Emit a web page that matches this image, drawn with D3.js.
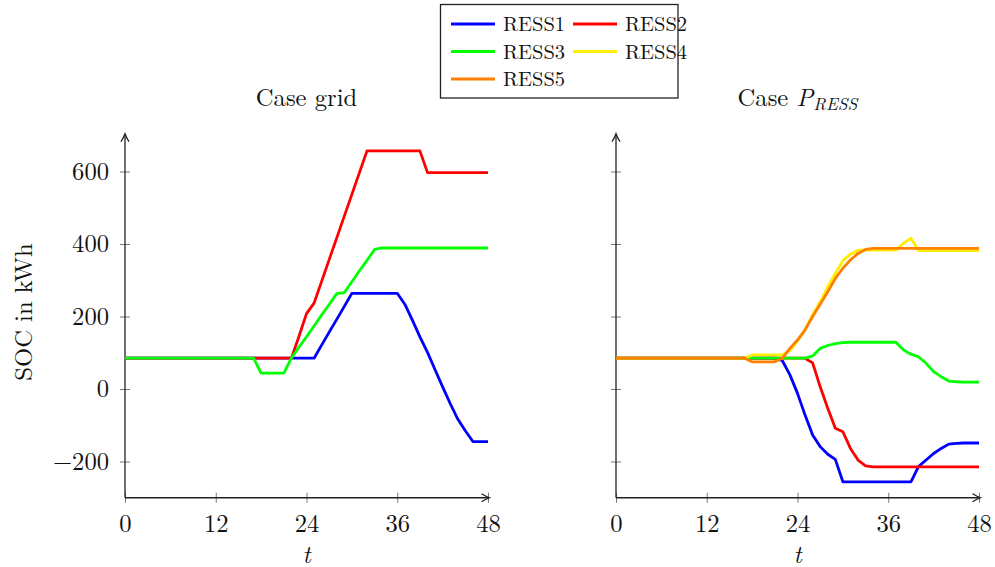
<!DOCTYPE html>
<html>
<head>
<meta charset="utf-8">
<script src="https://cdn.jsdelivr.net/npm/d3@7"></script>
<style>
  body { margin: 0; background: #fff; }
</style>
</head>
<body>
<svg id="chart" width="995" height="567"></svg>
<script>
// SOC of the five storage systems over 48 hours, two cases

var hours = d3.range(0, 49);
var seriesNames = ["RESS1", "RESS2", "RESS3", "RESS4", "RESS5"];
var seriesColors = ["#0000ff", "#ff0000", "#00ff00", "#ffee00", "#ff8000"];
var xTicks = [0, 12, 24, 36, 48];
var yTicks = [-200, 0, 200, 400, 600];

// case grid
var gridRess1 = [85,85,85,85,85,85,85,85,85,85, 85,85,85,85,85,85,85,85,85,85,
                 85,85,85,85,85,85, 121,157,192,228,264, 264,264,264,264,264,264,
                 234,190,144,101,53,6,-40,-83,-115,-145,-145,-145];
var gridRess2 = [85,85,85,85,85,85,85,85,85,85, 85,85,85,85,85,85,85,85,85,85,
                 85,85,85, 145,208,237, 297,357,417,477,537,597,657,
                 657,657,657,657,657,657,657, 597, 597,597,597,597,597,597,597,597];
var gridRess3 = [85,85,85,85,85,85,85,85,85,85, 85,85,85,85,85,85,85,85,
                 44,44,44,44, 85,115,144,174,204,233,263, 266,296,326,355,385,
                 389,389,389,389,389,389,389,389,389,389,389,389,389,389,389];

// case P_RESS
var presRess1 = [85,85,85,85,85,85,85,85,85,85, 85,85,85,85,85,85,85,85,85,85, 85,85,
                 78,39,-12,-72,-127,-159,-180,-194,-256,
                 -256,-256,-256,-256,-256,-256,-256,-256,-256,
                 -214,-196,-178,-164,-152,-150,-149,-149,-149];
var presRess2 = [85,85,85,85,85,85,85,85,85,85, 85,85,85,85,85,85,85,85,85,85, 85,85,85,85,85,85,
                 72,6,-53,-108,-118,-164,-196,-212,
                 -215,-215,-215,-215,-215,-215,-215,-215,-215,-215,-215,-215,-215,-215,-215];
var presRess3 = [85,85,85,85,85,85,85,85,85,85, 85,85,85,85,85,85,85,85,85,85, 85,85,85,85,85,85,
                 91,112,120,125,128, 129,129,129,129,129,129,129,
                 108,96,89,71,48,34,22,20,19,19,19];
var presRess4 = [85,85,85,85,85,85,85,85,85,85, 85,85,85,85,85,85,85,85,
                 94,94,94,94,94, 106,133,163,205,240,282,319,354,372,383,
                 383,383,383,383,383, 402,416, 382,382,382,382,382,382,382,382,382];
var presRess5 = [85,85,85,85,85,85,85,85,85,85, 85,85,85,85,85,85,85,85,
                 75,75,75,75, 85,112,135,163,200,234,268,305,333,356,374,385,
                 388,388,388,388,388,388,388,388,388,388,388,388,388,388,388];

var FONT = "'Latin Modern Roman', 'Liberation Serif', serif";
var FS = 24.6;      // normal text size

var svg = d3.select("#chart");

var top_y = 135.25, bottom_y = 497.75;
var y = d3.scaleLinear().domain([-300, 700]).range([bottom_y, top_y]);

function arrow_head(g, x0, y0, angle) {
    g.append("path")
     .attr("d", "M-8,-4 Q-3,-1 0,0 Q-3,1 -8,4")
     .attr("transform", "translate(" + x0 + "," + y0 + ") rotate(" + angle + ")")
     .attr("fill", "none")
     .attr("stroke", "#222")
     .attr("stroke-width", 1.3);
}

function draw_panel(x0, x1, title, series, show_ylabels) {

    var x = d3.scaleLinear().domain([0, 48]).range([x0, x1]);
    var g = svg.append("g");

    // x axis
    var gx = g.append("g")
              .attr("transform", "translate(0," + bottom_y + ")")
              .call(d3.axisBottom(x).tickValues(xTicks).tickSizeOuter(0));
    gx.attr("font-family", FONT).attr("font-size", FS);
    gx.select(".domain").remove();
    gx.selectAll(".tick line").attr("y1", -5).attr("y2", 5)
      .attr("stroke", "#777").attr("stroke-width", 1);
    gx.selectAll(".tick text").attr("y", 34).attr("dy", 0).attr("fill", "#111");

    // y axis
    var gy = g.append("g")
              .attr("transform", "translate(" + x0 + ",0)")
              .call(d3.axisLeft(y).tickValues(yTicks).tickSizeOuter(0).tickSize(0).tickPadding(16));
    gy.attr("font-family", FONT).attr("font-size", FS);
    gy.select(".domain").remove();
    gy.selectAll(".tick line").attr("x1", -5).attr("x2", 5)
      .attr("stroke", "#777").attr("stroke-width", 1);
    gy.selectAll(".tick text")
      .attr("fill", "#111")
      .style("display", show_ylabels ? null : "none");

    // axis lines with arrows
    g.append("line").attr("x1", x0).attr("x2", x1 + 1)
     .attr("y1", bottom_y).attr("y2", bottom_y)
     .attr("stroke", "#222").attr("stroke-width", 1.3);
    g.append("line").attr("x1", x0).attr("x2", x0)
     .attr("y1", bottom_y).attr("y2", top_y - 1)
     .attr("stroke", "#222").attr("stroke-width", 1.3);
    arrow_head(g, x1 + 1.5, bottom_y, 0);
    arrow_head(g, x0, top_y - 1.5, -90);

    // lines
    var line = d3.line()
                 .x((d, i) => x(hours[i]))
                 .y(d => y(d));

    series.forEach(function(s) {
        g.append("path")
         .datum(s.values)
         .attr("d", line)
         .attr("fill", "none")
         .attr("stroke", seriesColors[s.idx])
         .attr("stroke-width", 2.8)
         .attr("stroke-linejoin", "round");
    });

    // title
    var cx = (x0 + x1) / 2;
    var t = g.append("text")
             .attr("x", cx)
             .attr("y", 106)
             .attr("text-anchor", "middle")
             .attr("font-family", FONT)
             .attr("font-size", FS)
             .attr("fill", "#111");
    t.append("tspan").text(title[0]);
    if (title.length > 1) {
        t.append("tspan").attr("font-style", "italic").text(title[1]);
        t.append("tspan").attr("font-style", "italic").attr("font-size", 17.5)
         .attr("dy", 4).text(title[2]);
    }

    // x label
    g.append("text")
     .attr("x", cx)
     .attr("y", 563)
     .attr("text-anchor", "middle")
     .attr("font-family", FONT)
     .attr("font-size", FS)
     .attr("font-style", "italic")
     .attr("fill", "#111")
     .text("t");
}

draw_panel(125, 488, ["Case grid"], [
    {idx: 0, values: gridRess1},
    {idx: 1, values: gridRess2},
    {idx: 2, values: gridRess3}
], true);

draw_panel(616, 979, ["Case ", "P", "RESS"], [
    {idx: 0, values: presRess1},
    {idx: 1, values: presRess2},
    {idx: 2, values: presRess3},
    {idx: 3, values: presRess4},
    {idx: 4, values: presRess5}
], false);

// y label
svg.append("text")
   .attr("transform", "translate(32,312) rotate(-90)")
   .attr("text-anchor", "middle")
   .attr("font-family", FONT)
   .attr("font-size", FS)
   .attr("fill", "#111")
   .text("SOC in kWh");

// legend
var legend = svg.append("g");
legend.append("rect")
      .attr("x", 440.5).attr("y", 4.5)
      .attr("width", 237.5).attr("height", 93.5)
      .attr("fill", "#fff")
      .attr("stroke", "#222")
      .attr("stroke-width", 1.3);

var legend_cols = [451, 573];
var legend_rows = [24, 51.5, 79];

seriesNames.forEach(function(name, i) {
    var lx = legend_cols[i % 2];
    var ly = legend_rows[Math.floor(i / 2)];
    legend.append("line")
          .attr("x1", lx).attr("x2", lx + 44)
          .attr("y1", ly).attr("y2", ly)
          .attr("stroke", seriesColors[i])
          .attr("stroke-width", 2.8);
    legend.append("text")
          .attr("x", lx + 52)
          .attr("y", ly + 7)
          .attr("font-family", FONT)
          .attr("font-size", 20.5)
          .attr("fill", "#111")
          .text(name);
});
</script>
</body>
</html>
